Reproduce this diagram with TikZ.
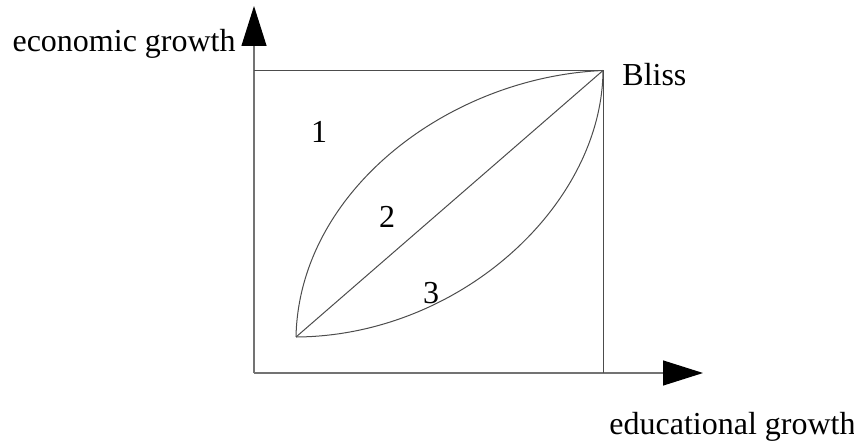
\documentclass[tikz,border=0pt]{standalone}
\usepackage{fontspec}
\setmainfont{Liberation Serif}
\usetikzlibrary{arrows.meta}

\begin{document}
\begin{tikzpicture}[x=0.5pt,y=-0.5pt,
		axis/.style={draw=black!55, line width=0.6pt, -{Triangle[length=20pt,width=12.5pt,color=black]}},
		curve/.style={draw=black!70, line width=0.5pt},
		lbl/.style={font=\fontsize{16}{19}\selectfont, inner sep=0pt}]
			\useasboundingbox (0,0) rectangle (854,442);
			\coordinate (origin) at (254,373);
			\coordinate (ytip) at (254,6);
			\coordinate (xtip) at (703,373);
			\coordinate (ytop) at (254,70.5);
			\coordinate (xright) at (603,373);
			\coordinate (bliss) at (603,70.5);
			\coordinate (start) at (296,337);
			\draw[axis] (origin) -- (ytip);
			\draw[axis] (origin) -- (xtip);
			\draw[curve] (ytop) -- (bliss) -- (xright);
			\draw[curve] (start) -- (bliss);
			\draw[curve] (start) .. controls (299,190) and (450,77) .. (bliss);
			\draw[curve] (start) .. controls (460,336) and (602,205) .. (bliss);
			\node[lbl, anchor=base east] (ylabel) at (236,52) {economic growth};
			\node[lbl, anchor=base west] (xlabel) at (609,434) {educational growth};
			\node[lbl, anchor=base west] (blisslabel) at (622,86) {Bliss};
			\node[lbl] (one) at (319,132) {1};
			\node[lbl] (two) at (387,217) {2};
			\node[lbl] (three) at (431,293) {3};
		\end{tikzpicture}
\end{document}
